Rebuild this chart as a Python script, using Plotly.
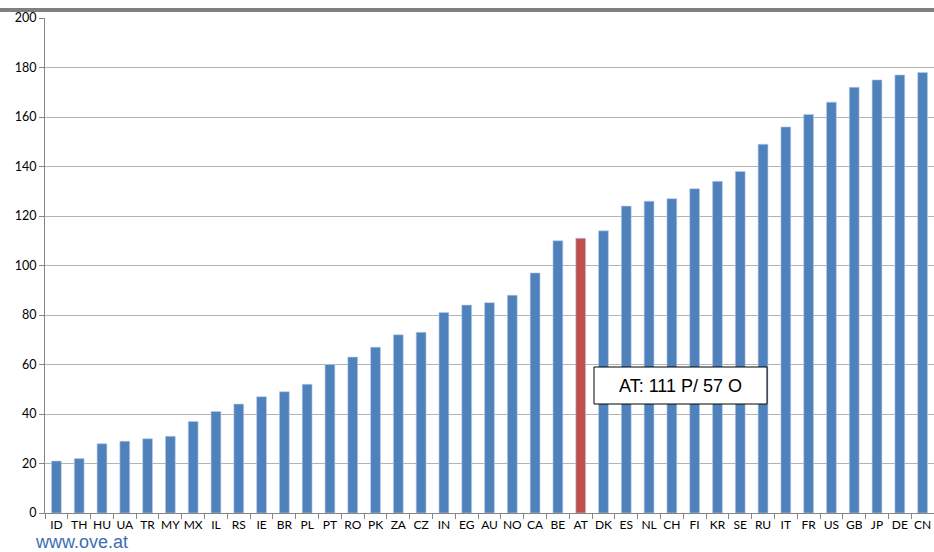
import plotly.graph_objects as go

countries = ["ID","TH","HU","UA","TR","MY","MX","IL","RS","IE","BR","PL","PT","RO","PK","ZA","CZ","IN","EG","AU","NO","CA","BE","AT","DK","ES","NL","CH","FI","KR","SE","RU","IT","FR","US","GB","JP","DE","CN"]
values = [21,22,28,29,30,31,37,41,44,47,49,52,60,63,67,72,73,81,84,85,88,97,110,111,114,124,126,127,131,134,138,149,156,161,166,172,175,177,178]
highlight = "AT"
annotation_text = "AT: 111 P/ 57 O"
y_ticks = [0,20,40,60,80,100,120,140,160,180,200]

W, H = 934, 552
ML, MR, MT, MB = 45, 0, 18, 39
pw, ph = W - ML - MR, H - MT - MB

colors = ["#c0504d" if c == highlight else "#4f81bd" for c in countries]

fig = go.Figure(go.Bar(
    x=countries, y=values, marker_color=colors,
    marker_line=dict(color="#b9cde5", width=0.6),
    width=0.43,
))

def px_x(p):
    return (p - ML) / pw

def px_y(p):
    return 1 - (p - MT) / ph

fig.update_layout(
    width=W, height=H,
    margin=dict(l=ML, r=MR, t=MT, b=MB),
    paper_bgcolor="white", plot_bgcolor="white",
    showlegend=False,
    font=dict(family="Lato, Open Sans, sans-serif", size=12, color="#000000"),
    xaxis=dict(
        type="category", showgrid=False, showline=True, linecolor="#868686", linewidth=1,
        ticks="outside", ticklen=5, tickcolor="#868686", tickson="boundaries",
        tickfont=dict(size=12), tickangle=0, automargin=False, ticklabelstandoff=1,
        range=[-0.5, len(countries) - 0.5],
    ),
    yaxis=dict(
        range=[0, 200], tickvals=y_ticks, showgrid=True, gridcolor="#b3b3b3", gridwidth=1,
        showline=True, linecolor="#868686", linewidth=1, ticks="outside", ticklen=5,
        tickcolor="#868686", tickfont=dict(size=12.5), zeroline=False, automargin=False,
    ),
    shapes=[
        dict(type="rect", xref="paper", yref="paper",
             x0=px_x(0), x1=px_x(W), y0=px_y(12), y1=px_y(8),
             fillcolor="#808080", line=dict(width=0), layer="above"),
        dict(type="rect", xref="paper", yref="paper",
             x0=px_x(594), x1=px_x(767), y0=px_y(404), y1=px_y(367),
             fillcolor="white", line=dict(color="#000000", width=1), layer="above"),
    ],
    annotations=[
        dict(text=annotation_text, xref="paper", yref="paper",
             x=px_x(680.5), y=px_y(385.5), xanchor="center", yanchor="middle",
             showarrow=False, font=dict(family="Liberation Sans, Arial", size=18, color="#000000")),
        dict(text="www.ove.at", xref="paper", yref="paper",
             x=px_x(34), y=px_y(553), xanchor="left", yanchor="bottom", borderpad=0,
             showarrow=False, font=dict(family="Liberation Sans, Arial", size=18, color="#3b6eb4")),
    ],
)

fig.write_html("out.html", config={"displayModeBar": False},
               post_script="document.body.style.margin='0px';document.body.style.overflow='hidden';")
